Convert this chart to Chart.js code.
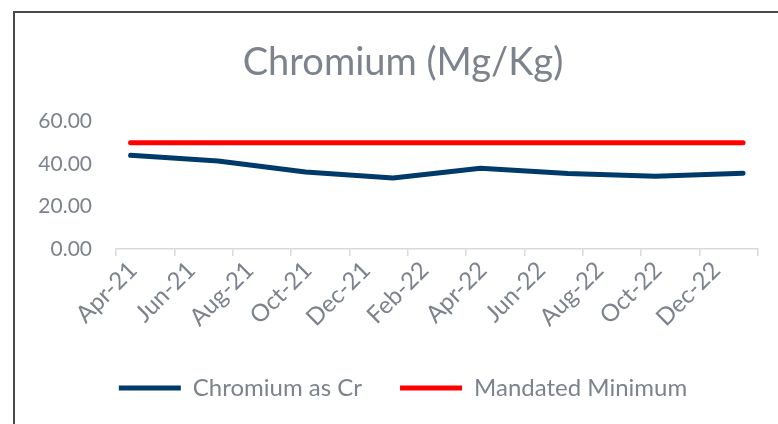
<!DOCTYPE html>
<html>
<head>
<meta charset="utf-8">
<script src="https://cdn.jsdelivr.net/npm/chart.js@4"></script>
<style>
  body { margin: 0; background: #fff; overflow: hidden; }
</style>
</head>
<body>
<canvas id="chart0" width="778" height="424"></canvas>
<script>
var ctx = document.getElementById('chart0').getContext('2d');

// quarterly readings
const months = ['Apr-21', 'Jul-21', 'Oct-21', 'Jan-22', 'Apr-22', 'Jul-22', 'Oct-22', 'Jan-23'];
const chromium = [44.1, 41.4, 36.3, 33.4, 38.0, 35.5, 34.3, 35.7];
const mandatedMinimum = [50, 50, 50, 50, 50, 50, 50, 50];

// date axis labels, every 2 months
const tickLabels = ['Apr-21', 'Jun-21', 'Aug-21', 'Oct-21', 'Dec-21', 'Feb-22', 'Apr-22', 'Jun-22', 'Aug-22', 'Oct-22', 'Dec-22'];

const monthNames = ['Jan', 'Feb', 'Mar', 'Apr', 'May', 'Jun', 'Jul', 'Aug', 'Sep', 'Oct', 'Nov', 'Dec'];

function monthIndex(label) {
    // months since Apr-21, point sits in the middle of its month
    let parts = label.split('-');
    let m = monthNames.indexOf(parts[0]);
    let y = 2000 + parseInt(parts[1]);
    return (y - 2021) * 12 + (m - 3) + 0.5;
}

function toPoints(values) {
    return values.map((v, i) => ({ x: monthIndex(months[i]), y: v }));
}

const grey = '#7d838c';

// outer frame of the excel chart
const frame = {
    id: 'frame',
    afterLayout(chart) {
        // let the y labels spill into the left padding without being clipped
        chart.scales.y.left = 20;
    },
    beforeDraw(chart) {
        let c = chart.ctx;
        c.save();
        c.fillStyle = '#fff';
        c.fillRect(0, 0, chart.width, chart.height);
        c.strokeStyle = '#4a4a4a';
        c.lineWidth = 2;
        c.strokeRect(14, 12, 800, 500);
        c.restore();
    }
};

let chart = new Chart(ctx, {
    type: 'line',
    data: {
        datasets: [{
            label: 'Chromium as Cr',
            data: toPoints(chromium),
            borderColor: '#003a6b',
            backgroundColor: '#003a6b',
            borderWidth: 5,
            borderCapStyle: 'round',
            borderJoinStyle: 'round',
            pointRadius: 0,
            tension: 0
        }, {
            label: 'Mandated Minimum',
            data: toPoints(mandatedMinimum),
            borderColor: '#ff0000',
            backgroundColor: '#ff0000',
            borderWidth: 5,
            borderCapStyle: 'round',
            pointRadius: 0,
            tension: 0
        }]
    },
    options: {
        responsive: false,
        animation: false,
        layout: { padding: { left: 45, right: 17, top: 11, bottom: 14 } },
        plugins: {
            title: {
                display: true,
                text: 'Chromium (Mg/Kg)',
                color: grey,
                font: { family: 'Lato', size: 38, weight: 'normal' },
                padding: { top: 29, bottom: 36 }
            },
            legend: {
                position: 'bottom',
                labels: {
                    usePointStyle: true,
                    pointStyle: 'line',
                    pointStyleWidth: 62,
                    color: grey,
                    font: { family: 'Lato', size: 24 },
                    padding: 38
                }
            },
            tooltip: { enabled: false }
        },
        scales: {
            x: {
                type: 'linear',
                min: 0,
                max: 22,
                grid: { drawOnChartArea: false, color: '#d9d9d9', tickLength: 7, lineWidth: 1.5 },
                border: { color: '#d9d9d9', width: 1.5 },
                afterFit: (scale) => { scale.height += 6; },
                ticks: {
                    stepSize: 2,
                    color: grey,
                    font: { family: 'Lato', size: 24 },
                    maxRotation: 45,
                    minRotation: 45,
                    labelOffset: 17,
                    padding: 0,
                    autoSkip: false,
                    callback: (v) => tickLabels[v / 2] || ''
                }
            },
            y: {
                min: 0,
                max: 60,
                grid: { display: false, drawTicks: false },
                border: { display: false },
                afterFit: (scale) => { scale.width = 71; },
                ticks: {
                    stepSize: 20,
                    color: grey,
                    padding: 24,
                    font: { family: 'Lato', size: 21 },
                    callback: (v) => v.toFixed(2)
                }
            }
        }
    },
    plugins: [frame]
});
</script>
</body>
</html>
